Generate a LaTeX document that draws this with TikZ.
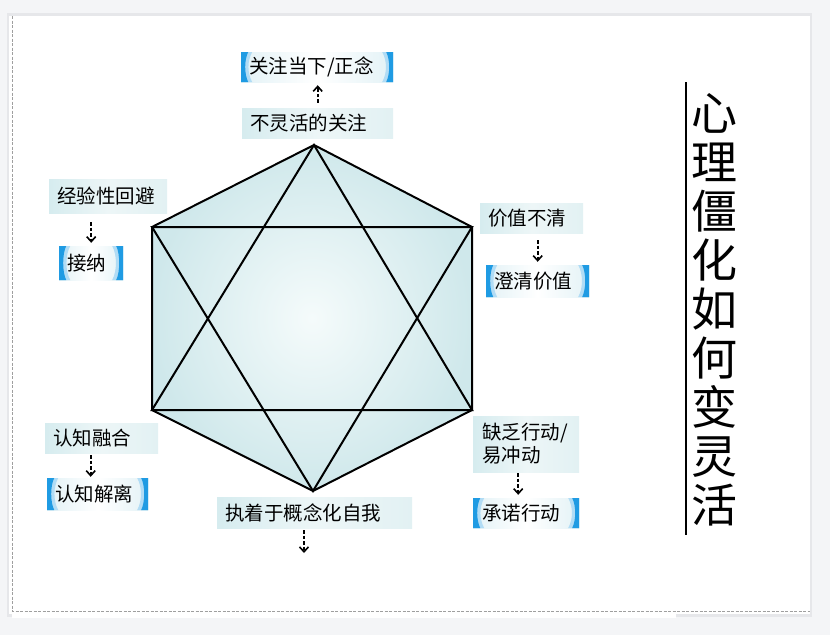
\documentclass[tikz,border=0pt]{standalone}
\usepackage{fontspec}
\setmainfont{Noto Sans CJK SC}
\usetikzlibrary{arrows.meta,calc}
\definecolor{bgc}{HTML}{F4F5F7}
\definecolor{shadowc}{HTML}{E6E7EA}
\definecolor{pedge}{HTML}{D6ECEF}
\definecolor{pmid}{HTML}{EDF6F7}
\definecolor{pedgeb}{HTML}{E2F1F3}
\definecolor{sblue}{HTML}{1F9BE3}
\definecolor{slight}{HTML}{E3F2F6}
\definecolor{hexin}{HTML}{F5FBFB}
\definecolor{hexout}{HTML}{CFE8EB}
\pgfdeclarehorizontalshading{probshade}{100bp}{color(0bp)=(pedge); color(25bp)=(pedge); color(50bp)=(pmid); color(75bp)=(pedgeb); color(100bp)=(pedgeb)}
\pgfdeclarehorizontalshading{solshade}{100bp}{color(0bp)=(slight); color(25bp)=(slight); color(50bp)=(white); color(75bp)=(slight); color(100bp)=(slight)}
\begin{document}
\begin{tikzpicture}[x=1pt,y=-1pt,
  box/.style={anchor=west, inner xsep=8pt, inner ysep=0pt, align=left,
    font=\fontsize{19.5}{23}\selectfont},
  probbox/.style={box, shade, shading=probshade},
  solbox/.style={box, shade, shading=solshade,
    path picture={
      \fill[sblue!35] (path picture bounding box.north west) -- ++(11,0)
        .. controls +(-5,9) and +(-5,-9) .. ([xshift=11pt]path picture bounding box.south west)
        -- (path picture bounding box.south west) -- cycle;
      \fill[sblue!35] (path picture bounding box.north east) -- ++(-11,0)
        .. controls +(5,9) and +(5,-9) .. ([xshift=-11pt]path picture bounding box.south east)
        -- (path picture bounding box.south east) -- cycle;
      \fill[sblue] (path picture bounding box.north west) -- ++(7,0)
        .. controls +(-4,8) and +(-4,-8) .. ([xshift=7pt]path picture bounding box.south west)
        -- (path picture bounding box.south west) -- cycle;
      \fill[sblue] (path picture bounding box.north east) -- ++(-7,0)
        .. controls +(4,8) and +(4,-8) .. ([xshift=-7pt]path picture bounding box.south east)
        -- (path picture bounding box.south east) -- cycle;
    }},
  darr/.style={dash pattern=on 3.5pt off 2pt, line width=1.7pt,
    -{Straight Barb[length=5pt,width=9pt,line width=1.6pt]}},
  hexline/.style={line width=2pt, line join=miter},
  pageborder/.style={draw=gray!75, dash pattern=on 3pt off 1.5pt, line width=1pt}
]
\useasboundingbox (0,0) rectangle (830,635);
% page
\fill[bgc] (0,0) rectangle (830,635);
\fill[shadowc] (7,13) rectangle (812,617);
\fill[white] (9,16) rectangle (810,614);
\fill[white] (12,614) rectangle (676,618);
\coordinate (pgtl) at (12,16);
\coordinate (pgbl) at (12,611);
\coordinate (pgbr) at (810,611);
\draw[pageborder] (pgtl) -- (pgbl) -- (pgbr);

% hexagon and star
\coordinate (T) at (314,145);
\coordinate (UL) at (152,227);
\coordinate (UR) at (472,227);
\coordinate (LL) at (152,410);
\coordinate (LR) at (472,410);
\coordinate (B) at (313,491);
\shade[inner color=hexin, outer color=hexout] (T) -- (UR) -- (LR) -- (B) -- (LL) -- (UL) -- cycle;
\draw[hexline] (T) -- (UR) -- (LR) -- (B) -- (LL) -- (UL) -- cycle;
\draw[hexline] (T) -- (LL) -- (LR) -- cycle;
\draw[hexline] (B) -- (UL) -- (UR) -- cycle;

% boxes
\node[solbox, text width=136pt, minimum height=30pt] (mind) at (241,67) {关注当下/正念};
\node[probbox, text width=135pt, minimum height=30pt] (inflex) at (242,123) {不灵活的关注};
\node[probbox, text width=102pt, minimum height=34pt] (avoid) at (49,196) {经验性回避};
\node[solbox, text width=48pt, minimum height=34pt] (accept) at (59,263) {接纳};
\node[probbox, text width=87pt, minimum height=30pt] (values) at (480,218) {价值不清};
\node[solbox, text width=87pt, minimum height=32pt] (clarify) at (486,281) {澄清价值};
\node[probbox, text width=97pt, minimum height=30pt] (fusion) at (45,438) {认知融合};
\node[solbox, text width=85pt, minimum height=32pt] (defusion) at (47,494) {认知解离};
\node[probbox, text width=88pt, minimum height=56pt, inner xsep=9pt] (lack) at (473,444) {缺乏行动/\\易冲动};
\node[solbox, text width=88pt, minimum height=30pt, inner xsep=9pt] (commit) at (473,513) {承诺行动};
\node[probbox, text width=179pt, minimum height=31pt] (self) at (217,512.5) {执着于概念化自我};

% arrows
\draw[darr, shorten <=5pt, shorten >=3pt] (inflex.north) -- (inflex.north |- mind.south);
\draw[darr, shorten <=9pt, shorten >=3pt] (accept.north |- avoid.south) -- (accept.north);
\draw[darr, shorten <=7pt, shorten >=3pt] (clarify.north |- values.south) -- (clarify.north);
\draw[darr, shorten <=2pt, shorten >=1pt] ([xshift=-7pt]defusion.north |- fusion.south) -- ([xshift=-7pt]defusion.north);
\draw[darr, shorten <=1pt, shorten >=3pt] ([xshift=-8pt]commit.north |- lack.south) -- ([xshift=-8pt]commit.north);
\coordinate (selfend) at (304,553);
\draw[darr, shorten <=2pt] (selfend |- self.south) -- (selfend);

% title
\coordinate (ltop) at (686,82);
\coordinate (lbot) at (686,535);
\draw[line width=2pt] (ltop) -- (lbot);
\node[font=\fontsize{46}{49}\selectfont, align=center, inner sep=0pt] (title) at (714,310)
  {心\\理\\僵\\化\\如\\何\\变\\灵\\活};
\end{tikzpicture}
\end{document}
